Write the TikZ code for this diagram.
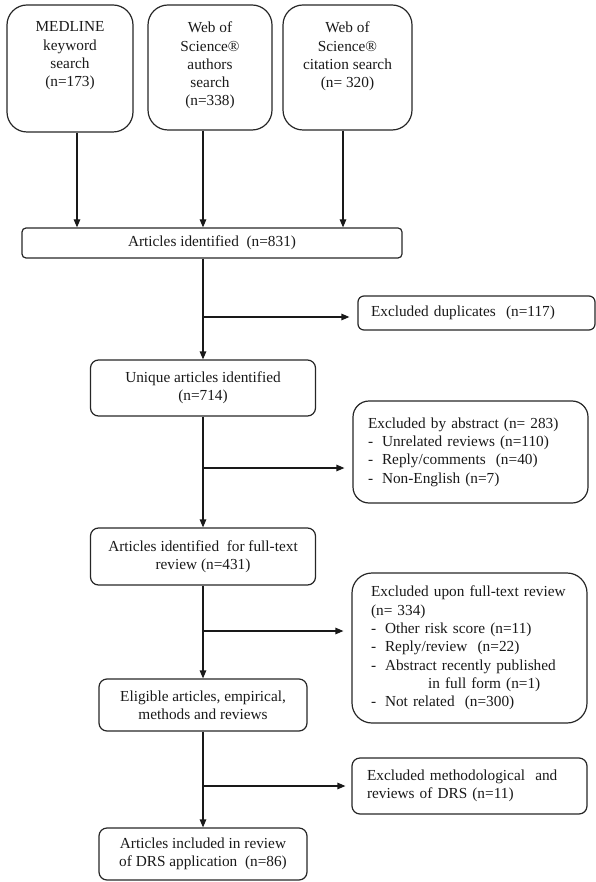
\documentclass[tikz,border=0pt]{standalone}
\usepackage{fontspec}
\setmainfont{Liberation Serif}
\usetikzlibrary{arrows.meta,calc}
\begin{document}
\begin{tikzpicture}[x=1pt,y=-1pt,
  every node/.style={font=\fontsize{15.3}{18.3}\selectfont, text=black!90},
  box/.style={draw=black!85, line width=1.2pt, inner sep=0pt},
  arr/.style={draw=black!90, line width=1.2pt, -{Triangle[length=8pt,width=6.5pt]}},
  harr/.style={arr, shorten >=8pt}]
\useasboundingbox (0,0) rectangle (596,882);
% top source boxes
\node[box, rounded corners=20pt, minimum width=126pt, minimum height=127pt] (m) at (70,68.5) {};
\node[anchor=north, align=center] (mt) at ($(m.north)+(0,14)$) {MEDLINE\\keyword\\search\\(n=173)};
\node[box, rounded corners=20pt, minimum width=124pt, minimum height=125pt] (w1) at (210,67.5) {};
\node[anchor=north, align=center] (w1t) at ($(w1.north)+(0,14)$) {Web of\\Science®\\authors\\search\\(n=338)};
\node[box, rounded corners=20pt, minimum width=129pt, minimum height=125pt] (w2) at (347.5,67.5) {};
\node[anchor=north, align=center] (w2t) at ($(w2.north)+(0,14)$) {Web of\\Science®\\citation search\\(n= 320)};
% main column
\node[box, rounded corners=4pt, minimum width=380pt, minimum height=30pt] (ai) at (212,243) {Articles identified\ \ (n=831)};
\node[box, rounded corners=8pt, minimum width=225pt, minimum height=56pt, align=center] (ua) at (203,388) {Unique articles identified\\(n=714)};
\node[box, rounded corners=8pt, minimum width=225pt, minimum height=57pt, align=center] (ft) at (203,556.5) {Articles identified\ \ for full-text\\review (n=431)};
\node[box, rounded corners=8pt, minimum width=208pt, minimum height=52pt, align=center] (el) at (203,705) {Eligible articles, empirical,\\methods and reviews};
\node[box, rounded corners=8pt, minimum width=208pt, minimum height=52pt, align=center] (inc) at (203,854) {Articles included in review\\of DRS application\ \ (n=86)};
% exclusion boxes
\node[box, rounded corners=6pt, minimum width=237pt, minimum height=34pt, text width=211pt, inner xsep=13pt, align=left] (dup) at (476.5,313) {Excluded duplicates\ \ (n=117)};
\node[box, rounded corners=16pt, minimum width=235pt, minimum height=102pt, text width=205pt, inner xsep=15pt, align=left] (abs) at (470.5,452) {Excluded by abstract (n= 283)\\
\makebox[14pt][l]{-}Unrelated reviews (n=110)\\
\makebox[14pt][l]{-}Reply/comments\ \ (n=40)\\
\makebox[14pt][l]{-}Non-English (n=7)};
\node[box, rounded corners=20pt, minimum width=235pt, minimum height=150pt, text width=197pt, inner xsep=19pt, align=left] (fx) at (469.5,648) {Excluded upon full-text review\\
(n= 334)\\
\makebox[14pt][l]{-}Other risk score (n=11)\\
\makebox[14pt][l]{-}Reply/review\ \ (n=22)\\
\makebox[14pt][l]{-}Abstract recently published\\
\hspace*{57pt}in full form\ (n=1)\\
\makebox[14pt][l]{-}Not related\ \ (n=300)};
\node[box, rounded corners=8pt, minimum width=235pt, minimum height=56pt, text width=205pt, inner xsep=15pt, align=left] (me) at (469.5,786) {Excluded methodological\ \ and\\reviews of DRS (n=11)};
% connectors
\draw[arr] ([xshift=7pt]m.south) -- ([xshift=7pt]m.south |- ai.north);
\draw[arr] ([xshift=-7pt]w1.south) -- ([xshift=-7pt]w1.south |- ai.north);
\draw[arr] ([xshift=-4.5pt]w2.south) -- ([xshift=-4.5pt]w2.south |- ai.north);
\draw[arr] (ua.north |- ai.south) -- (ua.north);
\draw[arr] (ua.south) -- (ft.north);
\draw[arr] (el.north |- ft.south) -- (el.north);
\draw[arr] (el.south) -- (inc.north);
\coordinate (y1) at (0,317);
\coordinate (y2) at (0,468);
\coordinate (y3) at (0,631);
\coordinate (b1) at (ua.north |- y1);
\coordinate (b2) at (ua.south |- y2);
\coordinate (b3) at (el.north |- y3);
\coordinate (b4) at (el.south |- me.west);
\draw[harr] (b1) -- (dup.west |- y1);
\draw[harr] (b2) -- (abs.west |- y2);
\draw[harr] (b3) -- (fx.west |- y3);
\draw[arr, shorten >=6pt] (b4) -- (me.west);
\end{tikzpicture}
\end{document}
